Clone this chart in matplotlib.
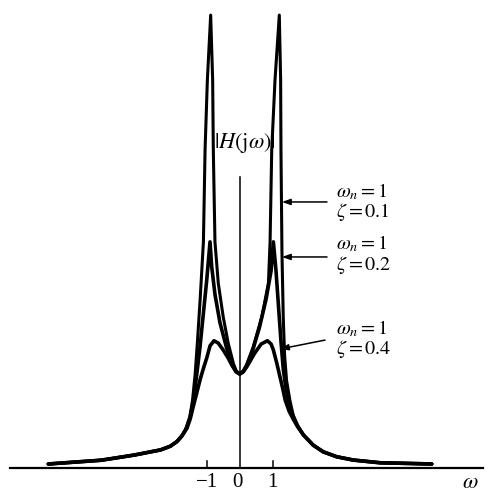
import matplotlib
matplotlib.use("Agg")
import matplotlib.pyplot as plt

plt.rcParams['mathtext.fontset'] = 'stix'
plt.rcParams['font.family'] = ['Liberation Serif', 'DejaVu Serif']

# ---- data (omega, |H(jw)|) ----
w_z01 = [-5.8, -4.2, -3.2, -2.4, -2.1, -1.9, -1.75, -1.65, -1.52, -1.43, -1.35, -1.28, -1.2, -1.1,
         -1.05, -0.98, -0.88, -0.82, -0.8, -0.75, -0.65, -0.5, -0.35, -0.19, -0.1, 0.0,
         0.1, 0.21, 0.41, 0.67, 0.87, 0.92, 0.97, 1.07, 1.2, 1.24, 1.25, 1.28, 1.32, 1.36,
         1.42, 1.52, 1.62, 1.75, 1.93, 2.23, 2.53, 2.94, 3.44, 4.25, 5.82]
h_z01 = [0.04, 0.08, 0.135, 0.19, 0.23, 0.28, 0.34, 0.40, 0.52, 0.72, 1.0, 1.35, 1.79, 2.41,
         3.39, 4.14, 4.83, 4.14, 3.39, 2.41, 1.97, 1.61, 1.33, 1.11, 1.03, 1.0,
         1.03, 1.10, 1.29, 1.61, 1.97, 2.41, 3.39, 4.14, 4.83, 4.14, 3.39, 2.3, 1.6, 1.2,
         0.93, 0.72, 0.56, 0.45, 0.35, 0.24, 0.17, 0.117, 0.082, 0.053, 0.04]

w_z02 = [-5.8, -4.2, -3.2, -2.4, -2.1, -1.9, -1.75, -1.62, -1.5, -1.4, -1.3, -1.2, -1.1, -1.0,
         -0.9, -0.85, -0.75, -0.6, -0.4, -0.2, -0.1, 0.0, 0.1, 0.2, 0.4, 0.6, 0.8, 0.95, 1.02,
         1.1, 1.18, 1.25, 1.32, 1.4, 1.5, 1.62, 1.75, 1.93, 2.23, 2.53, 2.94, 3.44, 4.25, 5.82]
h_z02 = [0.04, 0.08, 0.135, 0.19, 0.23, 0.28, 0.34, 0.42, 0.55, 0.72, 1.0, 1.3, 1.65, 2.0,
         2.41, 2.15, 1.85, 1.55, 1.28, 1.08, 1.02, 1.0, 1.02, 1.08, 1.26, 1.5, 1.8, 2.1, 2.41,
         2.1, 1.7, 1.35, 1.05, 0.85, 0.68, 0.55, 0.45, 0.35, 0.24, 0.17, 0.117, 0.082, 0.053, 0.04]

w_z04 = [-5.8, -4.2, -3.2, -2.4, -2.1, -1.9, -1.75, -1.6, -1.5, -1.41, -1.3, -1.2, -1.1, -1.0,
         -0.9, -0.78, -0.65, -0.5, -0.35, -0.24, -0.12, 0.0, 0.12, 0.22, 0.45, 0.65, 0.84,
         0.95, 1.02, 1.12, 1.22, 1.3, 1.38, 1.5, 1.62, 1.75, 1.93, 2.23, 2.53, 2.94, 3.44, 4.25, 5.82]
h_z04 = [0.04, 0.08, 0.135, 0.19, 0.23, 0.28, 0.34, 0.42, 0.52, 0.65, 0.8, 0.94, 1.06, 1.17,
         1.3, 1.355, 1.33, 1.256, 1.17, 1.096, 1.03, 1.0, 1.03, 1.08, 1.22, 1.32, 1.355,
         1.32, 1.256, 1.12, 0.97, 0.85, 0.72, 0.6, 0.52, 0.44, 0.35, 0.24, 0.17, 0.117, 0.082, 0.053, 0.04]

tick_pos = [-1, 0, 1]
tick_labels = ["\u22121", "0", "1"]
curve_labels = [r"$\omega_n = 1$" + "\n" + r"$\zeta = 0.1$",
                r"$\omega_n = 1$" + "\n" + r"$\zeta = 0.2$",
                r"$\omega_n = 1$" + "\n" + r"$\zeta = 0.4$"]

fig = plt.figure(figsize=(4.92, 4.92), dpi=100)
ax = fig.add_axes([0, 0, 1, 1])
ax.set_xlim(-7.264, 7.645)
ax.set_ylim(-0.259, 4.991)
ax.axis('off')

for w, h, lw in [(w_z01, h_z01, 2.2), (w_z02, h_z02, 2.6), (w_z04, h_z04, 2.6)]:
    ax.plot(w, h, color='black', lw=lw, solid_joinstyle='round', solid_capstyle='round')

# axes
ax.plot([-6.96, 7.37], [0, 0], color='black', lw=1.6)
ax.plot([0, 0], [0, 3.1], color='black', lw=1.1)
for t, lab in zip(tick_pos, tick_labels):
    if t != 0:
        ax.plot([t, t], [0, 0.07], color='black', lw=1.1)
    ax.text(t - (0.08 if t == 0 else 0), -0.16, lab, ha='center', va='center', fontsize=15)
ax.text(7.0, -0.17, r"$\omega$", ha='center', va='center', fontsize=16)
ax.text(0.17, 3.47, r"$|H(\mathrm{j}\omega)|$", ha='center', va='center', fontsize=16, zorder=5)

# annotations
text_y = [2.83, 2.27, 1.37]
arrow_start = [(2.645, 2.836), (2.645, 2.249), (2.585, 1.362)]
arrow_end = [(1.28, 2.836), (1.28, 2.249), (1.221, 1.267)]
for lab, ty, s, e in zip(curve_labels, text_y, arrow_start, arrow_end):
    ax.text(2.918, ty, lab, ha='left', va='center', fontsize=14.5, linespacing=0.95)
    ax.annotate("", xy=e, xytext=s,
                arrowprops=dict(arrowstyle='-|>,head_length=0.5,head_width=0.18',
                                color='black', lw=1.1, shrinkA=0, shrinkB=0))

fig.savefig("out.png", dpi=100)
